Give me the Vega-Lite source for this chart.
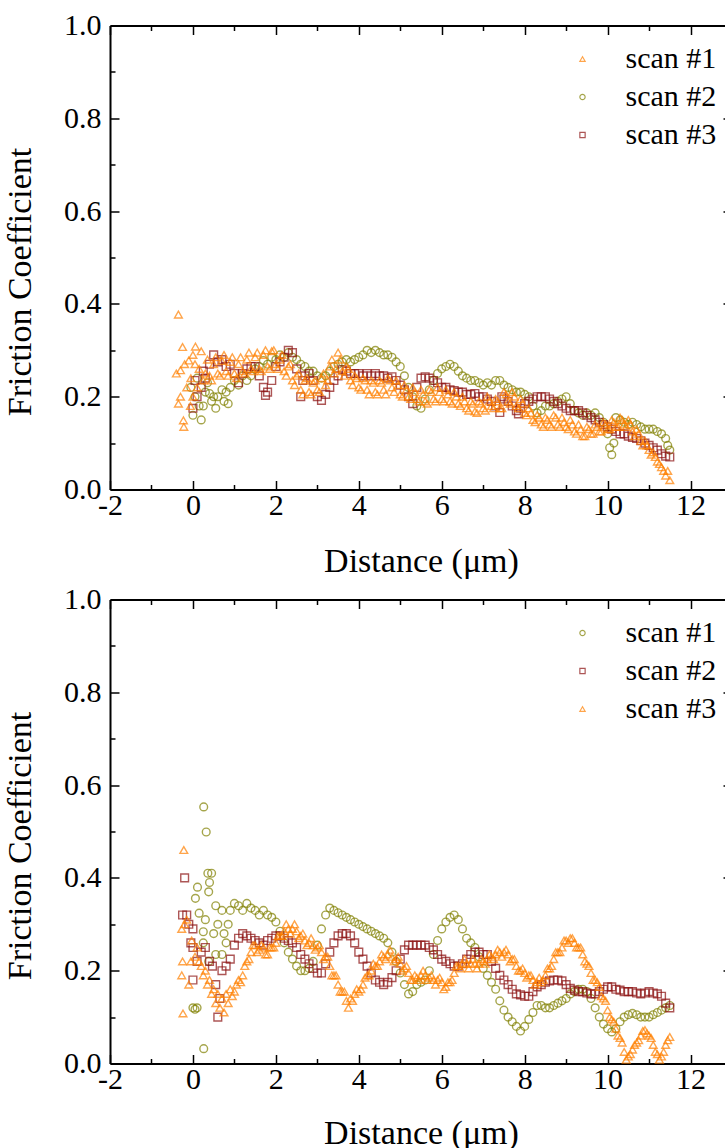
{
"$schema":"https://vega.github.io/schema/vega-lite/v6.json",
"background":"white",
"padding":{"left":3,"top":10.5,"right":0,"bottom":0},
"config":{"view":{"stroke":null},
"axis":{"grid":false,"domainColor":"black","tickColor":"black","labelColor":"black","titleColor":"black","labelFont":"Liberation Serif","titleFont":"Liberation Serif","labelFontSize":30,"titleFontSize":34,"titleFontWeight":"normal","domainWidth":2,"tickWidth":1.5,"labelOverlap":false,"labelFlush":false},
"legend":{"padding":0,"labelFont":"Liberation Serif","labelFontSize":30,"labelColor":"black","symbolSize":28,"symbolStrokeWidth":1.2,"labelOffset":28,"rowPadding":8,"orient":"none","legendX":457.5,"legendY":18.5,"title":null}},
"datasets":{
"top":[
{"s":"scan #2","x":-0.05,"y":0.22},{"s":"scan #2","x":0.0,"y":0.16},{"s":"scan #2","x":0.05,"y":0.2},{"s":"scan #2","x":0.1,"y":0.24},{"s":"scan #2","x":0.15,"y":0.18},{"s":"scan #2","x":0.2,"y":0.15},{"s":"scan #2","x":0.25,"y":0.18},{"s":"scan #2","x":0.3,"y":0.21},{"s":"scan #2","x":0.35,"y":0.23},{"s":"scan #2","x":0.4,"y":0.207},{"s":"scan #2","x":0.45,"y":0.19},{"s":"scan #2","x":0.5,"y":0.2},{"s":"scan #2","x":0.55,"y":0.175},{"s":"scan #2","x":0.6,"y":0.2},{"s":"scan #2","x":0.7,"y":0.215},{"s":"scan #2","x":0.75,"y":0.19},{"s":"scan #2","x":0.8,"y":0.21},{"s":"scan #2","x":0.85,"y":0.185},{"s":"scan #2","x":0.9,"y":0.22},
{"s":"scan #2","x":1.0,"y":0.235},{"s":"scan #2","x":1.1,"y":0.225},{"s":"scan #2","x":1.2,"y":0.245},{"s":"scan #2","x":1.3,"y":0.235},{"s":"scan #2","x":1.4,"y":0.245},{"s":"scan #2","x":1.5,"y":0.26},{"s":"scan #2","x":1.6,"y":0.265},{"s":"scan #2","x":1.7,"y":0.278},{"s":"scan #2","x":1.8,"y":0.27},{"s":"scan #2","x":1.9,"y":0.285},{"s":"scan #2","x":2.0,"y":0.28},{"s":"scan #2","x":2.1,"y":0.29},{"s":"scan #2","x":2.2,"y":0.285},{"s":"scan #2","x":2.3,"y":0.295},{"s":"scan #2","x":2.4,"y":0.285},{"s":"scan #2","x":2.5,"y":0.28},{"s":"scan #2","x":2.6,"y":0.27},{"s":"scan #2","x":2.7,"y":0.265},{"s":"scan #2","x":2.8,"y":0.255},{"s":"scan #2","x":2.9,"y":0.255},{"s":"scan #2","x":3.0,"y":0.245},{"s":"scan #2","x":3.1,"y":0.24},{"s":"scan #2","x":3.2,"y":0.245},{"s":"scan #2","x":3.3,"y":0.255},{"s":"scan #2","x":3.4,"y":0.265},{"s":"scan #2","x":3.5,"y":0.27},{"s":"scan #2","x":3.6,"y":0.275},{"s":"scan #2","x":3.7,"y":0.28},{"s":"scan #2","x":3.8,"y":0.275},{"s":"scan #2","x":3.9,"y":0.28},{"s":"scan #2","x":4.0,"y":0.285},{"s":"scan #2","x":4.1,"y":0.29},{"s":"scan #2","x":4.2,"y":0.3},{"s":"scan #2","x":4.3,"y":0.295},{"s":"scan #2","x":4.4,"y":0.3},{"s":"scan #2","x":4.5,"y":0.295},{"s":"scan #2","x":4.6,"y":0.29},{"s":"scan #2","x":4.7,"y":0.29},{"s":"scan #2","x":4.8,"y":0.285},{"s":"scan #2","x":4.9,"y":0.275},{"s":"scan #2","x":5.0,"y":0.265},{"s":"scan #2","x":5.1,"y":0.245},{"s":"scan #2","x":5.2,"y":0.22},{"s":"scan #2","x":5.3,"y":0.2},{"s":"scan #2","x":5.4,"y":0.18},{"s":"scan #2","x":5.5,"y":0.175},{"s":"scan #2","x":5.6,"y":0.195},{"s":"scan #2","x":5.7,"y":0.215},{"s":"scan #2","x":5.8,"y":0.235},{"s":"scan #2","x":5.9,"y":0.25},{"s":"scan #2","x":6.0,"y":0.26},{"s":"scan #2","x":6.1,"y":0.265},{"s":"scan #2","x":6.2,"y":0.27},{"s":"scan #2","x":6.3,"y":0.265},{"s":"scan #2","x":6.4,"y":0.255},{"s":"scan #2","x":6.5,"y":0.245},{"s":"scan #2","x":6.6,"y":0.24},{"s":"scan #2","x":6.7,"y":0.235},{"s":"scan #2","x":6.8,"y":0.235},{"s":"scan #2","x":6.9,"y":0.23},{"s":"scan #2","x":7.0,"y":0.225},{"s":"scan #2","x":7.1,"y":0.23},{"s":"scan #2","x":7.2,"y":0.225},{"s":"scan #2","x":7.3,"y":0.235},{"s":"scan #2","x":7.4,"y":0.235},{"s":"scan #2","x":7.5,"y":0.225},{"s":"scan #2","x":7.6,"y":0.22},{"s":"scan #2","x":7.7,"y":0.215},{"s":"scan #2","x":7.8,"y":0.21},{"s":"scan #2","x":7.9,"y":0.21},{"s":"scan #2","x":8.0,"y":0.205},{"s":"scan #2","x":8.1,"y":0.2},{"s":"scan #2","x":8.2,"y":0.18},{"s":"scan #2","x":8.3,"y":0.165},{"s":"scan #2","x":8.4,"y":0.17},{"s":"scan #2","x":8.5,"y":0.18},{"s":"scan #2","x":8.6,"y":0.18},{"s":"scan #2","x":8.7,"y":0.185},{"s":"scan #2","x":8.8,"y":0.19},{"s":"scan #2","x":8.9,"y":0.195},{"s":"scan #2","x":9.0,"y":0.2},{"s":"scan #2","x":9.1,"y":0.185},{"s":"scan #2","x":9.2,"y":0.17},{"s":"scan #2","x":9.3,"y":0.165},{"s":"scan #2","x":9.4,"y":0.16},{"s":"scan #2","x":9.5,"y":0.165},{"s":"scan #2","x":9.6,"y":0.16},{"s":"scan #2","x":9.7,"y":0.165},{"s":"scan #2","x":9.8,"y":0.155},{"s":"scan #2","x":9.9,"y":0.145},{"s":"scan #2","x":10.0,"y":0.12},{"s":"scan #2","x":10.05,"y":0.09},{"s":"scan #2","x":10.1,"y":0.075},{"s":"scan #2","x":10.15,"y":0.1},{"s":"scan #2","x":10.2,"y":0.155},{"s":"scan #2","x":10.3,"y":0.15},{"s":"scan #2","x":10.4,"y":0.145},{"s":"scan #2","x":10.5,"y":0.14},{"s":"scan #2","x":10.6,"y":0.145},{"s":"scan #2","x":10.7,"y":0.14},{"s":"scan #2","x":10.8,"y":0.135},{"s":"scan #2","x":10.9,"y":0.13},{"s":"scan #2","x":11.0,"y":0.13},{"s":"scan #2","x":11.1,"y":0.13},{"s":"scan #2","x":11.2,"y":0.125},{"s":"scan #2","x":11.3,"y":0.12},{"s":"scan #2","x":11.4,"y":0.11},{"s":"scan #2","x":11.45,"y":0.095},{"s":"scan #2","x":11.5,"y":0.085},
{"s":"scan #3","x":0.0,"y":0.175},{"s":"scan #3","x":0.05,"y":0.235},{"s":"scan #3","x":0.1,"y":0.2},{"s":"scan #3","x":0.2,"y":0.22},{"s":"scan #3","x":0.25,"y":0.255},{"s":"scan #3","x":0.3,"y":0.24},{"s":"scan #3","x":0.4,"y":0.27},{"s":"scan #3","x":0.5,"y":0.29},{"s":"scan #3","x":0.6,"y":0.275},{"s":"scan #3","x":0.7,"y":0.28},{"s":"scan #3","x":0.8,"y":0.265},{"s":"scan #3","x":0.9,"y":0.27},{"s":"scan #3","x":1.0,"y":0.25},{"s":"scan #3","x":1.1,"y":0.23},{"s":"scan #3","x":1.2,"y":0.25},{"s":"scan #3","x":1.3,"y":0.26},{"s":"scan #3","x":1.4,"y":0.265},{"s":"scan #3","x":1.5,"y":0.265},{"s":"scan #3","x":1.6,"y":0.245},{"s":"scan #3","x":1.7,"y":0.22},{"s":"scan #3","x":1.75,"y":0.203},{"s":"scan #3","x":1.8,"y":0.21},{"s":"scan #3","x":1.9,"y":0.235},{"s":"scan #3","x":2.0,"y":0.265},{"s":"scan #3","x":2.1,"y":0.275},{"s":"scan #3","x":2.2,"y":0.285},{"s":"scan #3","x":2.3,"y":0.3},{"s":"scan #3","x":2.4,"y":0.295},{"s":"scan #3","x":2.5,"y":0.26},{"s":"scan #3","x":2.6,"y":0.2},{"s":"scan #3","x":2.65,"y":0.235},{"s":"scan #3","x":2.7,"y":0.245},{"s":"scan #3","x":2.8,"y":0.25},{"s":"scan #3","x":2.9,"y":0.235},{"s":"scan #3","x":3.0,"y":0.2},{"s":"scan #3","x":3.1,"y":0.192},{"s":"scan #3","x":3.2,"y":0.205},{"s":"scan #3","x":3.3,"y":0.22},{"s":"scan #3","x":3.4,"y":0.235},{"s":"scan #3","x":3.5,"y":0.245},{"s":"scan #3","x":3.6,"y":0.258},{"s":"scan #3","x":3.7,"y":0.255},{"s":"scan #3","x":3.8,"y":0.25},{"s":"scan #3","x":3.9,"y":0.25},{"s":"scan #3","x":4.0,"y":0.25},{"s":"scan #3","x":4.1,"y":0.245},{"s":"scan #3","x":4.2,"y":0.25},{"s":"scan #3","x":4.3,"y":0.245},{"s":"scan #3","x":4.4,"y":0.25},{"s":"scan #3","x":4.5,"y":0.245},{"s":"scan #3","x":4.6,"y":0.245},{"s":"scan #3","x":4.7,"y":0.24},{"s":"scan #3","x":4.8,"y":0.243},{"s":"scan #3","x":4.9,"y":0.235},{"s":"scan #3","x":5.0,"y":0.225},{"s":"scan #3","x":5.1,"y":0.215},{"s":"scan #3","x":5.2,"y":0.2},{"s":"scan #3","x":5.3,"y":0.185},{"s":"scan #3","x":5.4,"y":0.22},{"s":"scan #3","x":5.5,"y":0.24},{"s":"scan #3","x":5.6,"y":0.243},{"s":"scan #3","x":5.7,"y":0.24},{"s":"scan #3","x":5.8,"y":0.235},{"s":"scan #3","x":5.9,"y":0.23},{"s":"scan #3","x":6.0,"y":0.22},{"s":"scan #3","x":6.1,"y":0.22},{"s":"scan #3","x":6.2,"y":0.215},{"s":"scan #3","x":6.3,"y":0.213},{"s":"scan #3","x":6.4,"y":0.21},{"s":"scan #3","x":6.5,"y":0.21},{"s":"scan #3","x":6.6,"y":0.205},{"s":"scan #3","x":6.7,"y":0.205},{"s":"scan #3","x":6.8,"y":0.207},{"s":"scan #3","x":6.9,"y":0.2},{"s":"scan #3","x":7.0,"y":0.2},{"s":"scan #3","x":7.1,"y":0.195},{"s":"scan #3","x":7.2,"y":0.19},{"s":"scan #3","x":7.3,"y":0.18},{"s":"scan #3","x":7.4,"y":0.166},{"s":"scan #3","x":7.45,"y":0.2},{"s":"scan #3","x":7.5,"y":0.195},{"s":"scan #3","x":7.6,"y":0.19},{"s":"scan #3","x":7.7,"y":0.18},{"s":"scan #3","x":7.8,"y":0.17},{"s":"scan #3","x":7.85,"y":0.163},{"s":"scan #3","x":7.9,"y":0.175},{"s":"scan #3","x":8.0,"y":0.185},{"s":"scan #3","x":8.1,"y":0.19},{"s":"scan #3","x":8.2,"y":0.195},{"s":"scan #3","x":8.3,"y":0.2},{"s":"scan #3","x":8.4,"y":0.2},{"s":"scan #3","x":8.5,"y":0.2},{"s":"scan #3","x":8.6,"y":0.195},{"s":"scan #3","x":8.7,"y":0.19},{"s":"scan #3","x":8.8,"y":0.185},{"s":"scan #3","x":8.9,"y":0.18},{"s":"scan #3","x":9.0,"y":0.175},{"s":"scan #3","x":9.1,"y":0.17},{"s":"scan #3","x":9.2,"y":0.17},{"s":"scan #3","x":9.3,"y":0.17},{"s":"scan #3","x":9.4,"y":0.165},{"s":"scan #3","x":9.5,"y":0.16},{"s":"scan #3","x":9.6,"y":0.155},{"s":"scan #3","x":9.7,"y":0.15},{"s":"scan #3","x":9.8,"y":0.145},{"s":"scan #3","x":9.9,"y":0.14},{"s":"scan #3","x":10.0,"y":0.135},{"s":"scan #3","x":10.1,"y":0.13},{"s":"scan #3","x":10.2,"y":0.125},{"s":"scan #3","x":10.3,"y":0.12},{"s":"scan #3","x":10.4,"y":0.12},{"s":"scan #3","x":10.5,"y":0.115},{"s":"scan #3","x":10.6,"y":0.112},{"s":"scan #3","x":10.7,"y":0.11},{"s":"scan #3","x":10.8,"y":0.105},{"s":"scan #3","x":10.9,"y":0.1},{"s":"scan #3","x":11.0,"y":0.095},{"s":"scan #3","x":11.1,"y":0.09},{"s":"scan #3","x":11.2,"y":0.085},{"s":"scan #3","x":11.3,"y":0.077},{"s":"scan #3","x":11.4,"y":0.072},{"s":"scan #3","x":11.5,"y":0.07},
{"s":"scan #1","x":-0.35,"y":0.377},{"s":"scan #1","x":-0.4,"y":0.25},{"s":"scan #1","x":-0.35,"y":0.185},{"s":"scan #1","x":-0.3,"y":0.257},{"s":"scan #1","x":-0.3,"y":0.2},{"s":"scan #1","x":-0.25,"y":0.307},{"s":"scan #1","x":-0.23,"y":0.149},{"s":"scan #1","x":-0.22,"y":0.135},{"s":"scan #1","x":-0.2,"y":0.27},{"s":"scan #1","x":-0.15,"y":0.22},{"s":"scan #1","x":-0.1,"y":0.278},{"s":"scan #1","x":-0.06,"y":0.18},{"s":"scan #1","x":-0.05,"y":0.24},{"s":"scan #1","x":0.0,"y":0.2},{"s":"scan #1","x":0.0,"y":0.29},{"s":"scan #1","x":0.05,"y":0.27},{"s":"scan #1","x":0.06,"y":0.308},{"s":"scan #1","x":0.1,"y":0.22},{"s":"scan #1","x":0.15,"y":0.26},{"s":"scan #1","x":0.2,"y":0.298},{"s":"scan #1","x":0.25,"y":0.235},{"s":"scan #1","x":0.3,"y":0.25},{"s":"scan #1","x":0.35,"y":0.28},
{"s":"scan #1","x":0.4,"y":0.245},{"s":"scan #1","x":0.5,"y":0.27},{"s":"scan #1","x":0.6,"y":0.25},{"s":"scan #1","x":0.7,"y":0.277},{"s":"scan #1","x":0.8,"y":0.255},{"s":"scan #1","x":0.9,"y":0.275},{"s":"scan #1","x":1.0,"y":0.25},{"s":"scan #1","x":1.1,"y":0.27},{"s":"scan #1","x":1.2,"y":0.255},{"s":"scan #1","x":1.3,"y":0.28},{"s":"scan #1","x":1.4,"y":0.26},{"s":"scan #1","x":1.5,"y":0.285},{"s":"scan #1","x":1.6,"y":0.26},{"s":"scan #1","x":1.7,"y":0.29},{"s":"scan #1","x":1.8,"y":0.265},{"s":"scan #1","x":1.9,"y":0.298},{"s":"scan #1","x":2.0,"y":0.27},{"s":"scan #1","x":2.1,"y":0.28},{"s":"scan #1","x":2.2,"y":0.255},{"s":"scan #1","x":2.3,"y":0.265},{"s":"scan #1","x":2.4,"y":0.235},{"s":"scan #1","x":2.5,"y":0.245},{"s":"scan #1","x":2.6,"y":0.215},{"s":"scan #1","x":2.7,"y":0.235},{"s":"scan #1","x":2.8,"y":0.21},{"s":"scan #1","x":2.9,"y":0.23},{"s":"scan #1","x":3.0,"y":0.215},{"s":"scan #1","x":3.1,"y":0.24},{"s":"scan #1","x":3.2,"y":0.225},{"s":"scan #1","x":3.3,"y":0.265},{"s":"scan #1","x":3.4,"y":0.25},{"s":"scan #1","x":3.5,"y":0.295},{"s":"scan #1","x":3.6,"y":0.255},{"s":"scan #1","x":3.7,"y":0.265},{"s":"scan #1","x":3.8,"y":0.235},{"s":"scan #1","x":3.9,"y":0.245},{"s":"scan #1","x":4.0,"y":0.22},{"s":"scan #1","x":4.1,"y":0.24},{"s":"scan #1","x":4.2,"y":0.215},{"s":"scan #1","x":4.3,"y":0.235},{"s":"scan #1","x":4.4,"y":0.21},{"s":"scan #1","x":4.5,"y":0.235},{"s":"scan #1","x":4.6,"y":0.215},{"s":"scan #1","x":4.7,"y":0.24},{"s":"scan #1","x":4.8,"y":0.22},{"s":"scan #1","x":4.9,"y":0.235},{"s":"scan #1","x":5.0,"y":0.205},{"s":"scan #1","x":5.1,"y":0.225},{"s":"scan #1","x":5.2,"y":0.2},{"s":"scan #1","x":5.3,"y":0.22},{"s":"scan #1","x":5.4,"y":0.195},{"s":"scan #1","x":5.5,"y":0.215},{"s":"scan #1","x":5.6,"y":0.19},{"s":"scan #1","x":5.7,"y":0.215},{"s":"scan #1","x":5.8,"y":0.195},{"s":"scan #1","x":5.9,"y":0.22},{"s":"scan #1","x":6.0,"y":0.195},{"s":"scan #1","x":6.1,"y":0.215},{"s":"scan #1","x":6.2,"y":0.19},{"s":"scan #1","x":6.3,"y":0.21},{"s":"scan #1","x":6.4,"y":0.185},{"s":"scan #1","x":6.5,"y":0.2},{"s":"scan #1","x":6.6,"y":0.175},{"s":"scan #1","x":6.7,"y":0.19},{"s":"scan #1","x":6.8,"y":0.168},{"s":"scan #1","x":6.9,"y":0.19},{"s":"scan #1","x":7.0,"y":0.175},{"s":"scan #1","x":7.1,"y":0.2},{"s":"scan #1","x":7.2,"y":0.18},{"s":"scan #1","x":7.3,"y":0.195},{"s":"scan #1","x":7.4,"y":0.175},{"s":"scan #1","x":7.5,"y":0.21},{"s":"scan #1","x":7.6,"y":0.19},{"s":"scan #1","x":7.7,"y":0.21},{"s":"scan #1","x":7.8,"y":0.18},{"s":"scan #1","x":7.9,"y":0.195},{"s":"scan #1","x":8.0,"y":0.165},{"s":"scan #1","x":8.1,"y":0.175},{"s":"scan #1","x":8.2,"y":0.15},{"s":"scan #1","x":8.3,"y":0.16},{"s":"scan #1","x":8.4,"y":0.14},{"s":"scan #1","x":8.5,"y":0.155},{"s":"scan #1","x":8.6,"y":0.14},{"s":"scan #1","x":8.7,"y":0.16},{"s":"scan #1","x":8.8,"y":0.14},{"s":"scan #1","x":8.9,"y":0.155},{"s":"scan #1","x":9.0,"y":0.135},{"s":"scan #1","x":9.1,"y":0.15},{"s":"scan #1","x":9.2,"y":0.125},{"s":"scan #1","x":9.3,"y":0.14},{"s":"scan #1","x":9.4,"y":0.115},{"s":"scan #1","x":9.5,"y":0.135},{"s":"scan #1","x":9.6,"y":0.12},{"s":"scan #1","x":9.7,"y":0.14},{"s":"scan #1","x":9.8,"y":0.125},{"s":"scan #1","x":9.9,"y":0.145},{"s":"scan #1","x":10.0,"y":0.13},{"s":"scan #1","x":10.1,"y":0.15},{"s":"scan #1","x":10.2,"y":0.135},{"s":"scan #1","x":10.3,"y":0.155},{"s":"scan #1","x":10.4,"y":0.14},{"s":"scan #1","x":10.5,"y":0.15},{"s":"scan #1","x":10.6,"y":0.125},{"s":"scan #1","x":10.7,"y":0.13},{"s":"scan #1","x":10.8,"y":0.105},{"s":"scan #1","x":10.9,"y":0.105},{"s":"scan #1","x":11.0,"y":0.085},{"s":"scan #1","x":11.1,"y":0.08},{"s":"scan #1","x":11.2,"y":0.06},{"s":"scan #1","x":11.3,"y":0.048},{"s":"scan #1","x":11.4,"y":0.03},{"s":"scan #1","x":11.45,"y":0.04},{"s":"scan #1","x":11.5,"y":0.02},
{"s":"scan #1","x":0.45,"y":0.235},{"s":"scan #1","x":0.55,"y":0.285},{"s":"scan #1","x":0.65,"y":0.245},{"s":"scan #1","x":0.75,"y":0.29},{"s":"scan #1","x":0.85,"y":0.245},{"s":"scan #1","x":0.95,"y":0.285},{"s":"scan #1","x":1.05,"y":0.24},{"s":"scan #1","x":1.15,"y":0.285},{"s":"scan #1","x":1.25,"y":0.25},{"s":"scan #1","x":1.35,"y":0.295},{"s":"scan #1","x":1.45,"y":0.255},{"s":"scan #1","x":1.55,"y":0.295},{"s":"scan #1","x":1.65,"y":0.255},{"s":"scan #1","x":1.75,"y":0.3},{"s":"scan #1","x":1.85,"y":0.26},{"s":"scan #1","x":1.95,"y":0.3},{"s":"scan #1","x":2.05,"y":0.26},{"s":"scan #1","x":2.15,"y":0.29},{"s":"scan #1","x":2.25,"y":0.245},{"s":"scan #1","x":2.35,"y":0.27},{"s":"scan #1","x":2.45,"y":0.225},{"s":"scan #1","x":2.55,"y":0.25},{"s":"scan #1","x":2.65,"y":0.205},{"s":"scan #1","x":2.75,"y":0.24},{"s":"scan #1","x":2.85,"y":0.205},{"s":"scan #1","x":2.95,"y":0.235},{"s":"scan #1","x":3.05,"y":0.21},{"s":"scan #1","x":3.15,"y":0.25},{"s":"scan #1","x":3.25,"y":0.235},{"s":"scan #1","x":3.35,"y":0.28},{"s":"scan #1","x":3.45,"y":0.26},{"s":"scan #1","x":3.55,"y":0.28},{"s":"scan #1","x":3.65,"y":0.245},{"s":"scan #1","x":3.75,"y":0.26},{"s":"scan #1","x":3.85,"y":0.225},{"s":"scan #1","x":3.95,"y":0.24},{"s":"scan #1","x":4.05,"y":0.215},{"s":"scan #1","x":4.15,"y":0.235},{"s":"scan #1","x":4.25,"y":0.205},{"s":"scan #1","x":4.35,"y":0.23},{"s":"scan #1","x":4.45,"y":0.205},{"s":"scan #1","x":4.55,"y":0.23},{"s":"scan #1","x":4.65,"y":0.205},{"s":"scan #1","x":4.75,"y":0.235},{"s":"scan #1","x":4.85,"y":0.21},{"s":"scan #1","x":4.95,"y":0.225},{"s":"scan #1","x":5.05,"y":0.2},{"s":"scan #1","x":5.15,"y":0.215},{"s":"scan #1","x":5.25,"y":0.195},{"s":"scan #1","x":5.35,"y":0.21},{"s":"scan #1","x":5.45,"y":0.19},{"s":"scan #1","x":5.55,"y":0.205},{"s":"scan #1","x":5.65,"y":0.185},{"s":"scan #1","x":5.75,"y":0.21},{"s":"scan #1","x":5.85,"y":0.19},{"s":"scan #1","x":5.95,"y":0.21},{"s":"scan #1","x":6.05,"y":0.19},{"s":"scan #1","x":6.15,"y":0.205},{"s":"scan #1","x":6.25,"y":0.185},{"s":"scan #1","x":6.35,"y":0.2},{"s":"scan #1","x":6.45,"y":0.18},{"s":"scan #1","x":6.55,"y":0.19},{"s":"scan #1","x":6.65,"y":0.17},{"s":"scan #1","x":6.75,"y":0.185},{"s":"scan #1","x":6.85,"y":0.165},{"s":"scan #1","x":6.95,"y":0.185},{"s":"scan #1","x":7.05,"y":0.17},{"s":"scan #1","x":7.15,"y":0.19},{"s":"scan #1","x":7.25,"y":0.175},{"s":"scan #1","x":7.35,"y":0.19},{"s":"scan #1","x":7.45,"y":0.175},{"s":"scan #1","x":7.55,"y":0.205},{"s":"scan #1","x":7.65,"y":0.185},{"s":"scan #1","x":7.75,"y":0.2},{"s":"scan #1","x":7.85,"y":0.175},{"s":"scan #1","x":7.95,"y":0.185},{"s":"scan #1","x":8.05,"y":0.16},{"s":"scan #1","x":8.15,"y":0.165},{"s":"scan #1","x":8.25,"y":0.145},{"s":"scan #1","x":8.35,"y":0.155},{"s":"scan #1","x":8.45,"y":0.135},{"s":"scan #1","x":8.55,"y":0.15},{"s":"scan #1","x":8.65,"y":0.135},{"s":"scan #1","x":8.75,"y":0.155},{"s":"scan #1","x":8.85,"y":0.135},{"s":"scan #1","x":8.95,"y":0.145},{"s":"scan #1","x":9.05,"y":0.13},{"s":"scan #1","x":9.15,"y":0.14},{"s":"scan #1","x":9.25,"y":0.12},{"s":"scan #1","x":9.35,"y":0.13},{"s":"scan #1","x":9.45,"y":0.115},{"s":"scan #1","x":9.55,"y":0.13},{"s":"scan #1","x":9.65,"y":0.12},{"s":"scan #1","x":9.75,"y":0.135},{"s":"scan #1","x":9.85,"y":0.125},{"s":"scan #1","x":9.95,"y":0.14},{"s":"scan #1","x":10.05,"y":0.13},{"s":"scan #1","x":10.15,"y":0.145},{"s":"scan #1","x":10.25,"y":0.135},{"s":"scan #1","x":10.35,"y":0.15},{"s":"scan #1","x":10.45,"y":0.135},{"s":"scan #1","x":10.55,"y":0.14},{"s":"scan #1","x":10.65,"y":0.115},{"s":"scan #1","x":10.75,"y":0.12},{"s":"scan #1","x":10.85,"y":0.095},{"s":"scan #1","x":10.95,"y":0.095},{"s":"scan #1","x":11.05,"y":0.075},{"s":"scan #1","x":11.15,"y":0.07},{"s":"scan #1","x":11.25,"y":0.055},{"s":"scan #1","x":11.35,"y":0.04}
],
"bottom":[
{"s":"scan #1","x":0.0,"y":0.12},{"s":"scan #1","x":0.05,"y":0.117},{"s":"scan #1","x":0.1,"y":0.12},{"s":"scan #1","x":0.06,"y":0.356},{"s":"scan #1","x":0.11,"y":0.38},{"s":"scan #1","x":0.26,"y":0.553},{"s":"scan #1","x":0.32,"y":0.499},{"s":"scan #1","x":0.26,"y":0.032},{"s":"scan #1","x":0.36,"y":0.41},{"s":"scan #1","x":0.45,"y":0.41},{"s":"scan #1","x":0.4,"y":0.39},{"s":"scan #1","x":0.38,"y":0.37},{"s":"scan #1","x":0.15,"y":0.324},{"s":"scan #1","x":0.25,"y":0.284},{"s":"scan #1","x":0.25,"y":0.26},{"s":"scan #1","x":0.5,"y":0.28},{"s":"scan #1","x":0.38,"y":0.22},{"s":"scan #1","x":0.55,"y":0.235},{"s":"scan #1","x":0.7,"y":0.235},{"s":"scan #1","x":0.8,"y":0.26},{"s":"scan #1","x":0.3,"y":0.31},{"s":"scan #1","x":0.55,"y":0.34},{"s":"scan #1","x":0.6,"y":0.3},{"s":"scan #1","x":0.7,"y":0.33},{"s":"scan #1","x":0.75,"y":0.28},{"s":"scan #1","x":0.85,"y":0.3},
{"s":"scan #1","x":0.9,"y":0.33},{"s":"scan #1","x":1.0,"y":0.345},{"s":"scan #1","x":1.1,"y":0.34},{"s":"scan #1","x":1.2,"y":0.33},{"s":"scan #1","x":1.3,"y":0.345},{"s":"scan #1","x":1.4,"y":0.335},{"s":"scan #1","x":1.5,"y":0.33},{"s":"scan #1","x":1.6,"y":0.32},{"s":"scan #1","x":1.7,"y":0.33},{"s":"scan #1","x":1.8,"y":0.32},{"s":"scan #1","x":1.9,"y":0.315},{"s":"scan #1","x":2.0,"y":0.305},{"s":"scan #1","x":2.1,"y":0.285},{"s":"scan #1","x":2.2,"y":0.26},{"s":"scan #1","x":2.3,"y":0.24},{"s":"scan #1","x":2.4,"y":0.225},{"s":"scan #1","x":2.5,"y":0.21},{"s":"scan #1","x":2.6,"y":0.2},{"s":"scan #1","x":2.7,"y":0.2},{"s":"scan #1","x":2.8,"y":0.205},{"s":"scan #1","x":2.9,"y":0.22},{"s":"scan #1","x":3.0,"y":0.255},{"s":"scan #1","x":3.1,"y":0.29},{"s":"scan #1","x":3.2,"y":0.32},{"s":"scan #1","x":3.3,"y":0.335},{"s":"scan #1","x":3.4,"y":0.33},{"s":"scan #1","x":3.5,"y":0.325},{"s":"scan #1","x":3.6,"y":0.32},{"s":"scan #1","x":3.7,"y":0.315},{"s":"scan #1","x":3.8,"y":0.31},{"s":"scan #1","x":3.9,"y":0.305},{"s":"scan #1","x":4.0,"y":0.3},{"s":"scan #1","x":4.1,"y":0.295},{"s":"scan #1","x":4.2,"y":0.29},{"s":"scan #1","x":4.3,"y":0.285},{"s":"scan #1","x":4.4,"y":0.28},{"s":"scan #1","x":4.5,"y":0.275},{"s":"scan #1","x":4.6,"y":0.27},{"s":"scan #1","x":4.7,"y":0.26},{"s":"scan #1","x":4.8,"y":0.24},{"s":"scan #1","x":4.9,"y":0.22},{"s":"scan #1","x":5.0,"y":0.195},{"s":"scan #1","x":5.1,"y":0.17},{"s":"scan #1","x":5.2,"y":0.15},{"s":"scan #1","x":5.3,"y":0.155},{"s":"scan #1","x":5.4,"y":0.17},{"s":"scan #1","x":5.5,"y":0.175},{"s":"scan #1","x":5.6,"y":0.18},{"s":"scan #1","x":5.7,"y":0.2},{"s":"scan #1","x":5.8,"y":0.235},{"s":"scan #1","x":5.9,"y":0.265},{"s":"scan #1","x":6.0,"y":0.29},{"s":"scan #1","x":6.1,"y":0.305},{"s":"scan #1","x":6.2,"y":0.315},{"s":"scan #1","x":6.3,"y":0.32},{"s":"scan #1","x":6.4,"y":0.31},{"s":"scan #1","x":6.5,"y":0.29},{"s":"scan #1","x":6.6,"y":0.27},{"s":"scan #1","x":6.7,"y":0.26},{"s":"scan #1","x":6.8,"y":0.25},{"s":"scan #1","x":6.9,"y":0.23},{"s":"scan #1","x":7.0,"y":0.205},{"s":"scan #1","x":7.1,"y":0.19},{"s":"scan #1","x":7.2,"y":0.175},{"s":"scan #1","x":7.3,"y":0.16},{"s":"scan #1","x":7.4,"y":0.135},{"s":"scan #1","x":7.5,"y":0.115},{"s":"scan #1","x":7.6,"y":0.1},{"s":"scan #1","x":7.7,"y":0.09},{"s":"scan #1","x":7.8,"y":0.08},{"s":"scan #1","x":7.9,"y":0.07},{"s":"scan #1","x":8.0,"y":0.08},{"s":"scan #1","x":8.1,"y":0.095},{"s":"scan #1","x":8.2,"y":0.11},{"s":"scan #1","x":8.3,"y":0.125},{"s":"scan #1","x":8.4,"y":0.125},{"s":"scan #1","x":8.5,"y":0.12},{"s":"scan #1","x":8.6,"y":0.12},{"s":"scan #1","x":8.7,"y":0.125},{"s":"scan #1","x":8.8,"y":0.13},{"s":"scan #1","x":8.9,"y":0.135},{"s":"scan #1","x":9.0,"y":0.14},{"s":"scan #1","x":9.1,"y":0.15},{"s":"scan #1","x":9.2,"y":0.155},{"s":"scan #1","x":9.3,"y":0.16},{"s":"scan #1","x":9.4,"y":0.16},{"s":"scan #1","x":9.5,"y":0.155},{"s":"scan #1","x":9.6,"y":0.14},{"s":"scan #1","x":9.7,"y":0.12},{"s":"scan #1","x":9.8,"y":0.1},{"s":"scan #1","x":9.9,"y":0.085},{"s":"scan #1","x":10.0,"y":0.075},{"s":"scan #1","x":10.1,"y":0.068},{"s":"scan #1","x":10.2,"y":0.075},{"s":"scan #1","x":10.3,"y":0.09},{"s":"scan #1","x":10.4,"y":0.1},{"s":"scan #1","x":10.5,"y":0.105},{"s":"scan #1","x":10.6,"y":0.108},{"s":"scan #1","x":10.7,"y":0.105},{"s":"scan #1","x":10.8,"y":0.1},{"s":"scan #1","x":10.9,"y":0.1},{"s":"scan #1","x":11.0,"y":0.1},{"s":"scan #1","x":11.1,"y":0.105},{"s":"scan #1","x":11.2,"y":0.11},{"s":"scan #1","x":11.3,"y":0.115},{"s":"scan #1","x":11.4,"y":0.12},{"s":"scan #1","x":11.5,"y":0.125},
{"s":"scan #2","x":-0.2,"y":0.4},{"s":"scan #2","x":-0.25,"y":0.32},{"s":"scan #2","x":-0.15,"y":0.32},{"s":"scan #2","x":-0.1,"y":0.3},{"s":"scan #2","x":0.0,"y":0.29},{"s":"scan #2","x":-0.05,"y":0.26},{"s":"scan #2","x":0.0,"y":0.25},{"s":"scan #2","x":0.0,"y":0.18},{"s":"scan #2","x":0.1,"y":0.22},{"s":"scan #2","x":0.2,"y":0.24},{"s":"scan #2","x":0.3,"y":0.25},{"s":"scan #2","x":0.4,"y":0.22},{"s":"scan #2","x":0.47,"y":0.21},{"s":"scan #2","x":0.55,"y":0.17},{"s":"scan #2","x":0.6,"y":0.1},{"s":"scan #2","x":0.65,"y":0.14},{"s":"scan #2","x":0.7,"y":0.2},{"s":"scan #2","x":0.8,"y":0.21},
{"s":"scan #2","x":0.9,"y":0.225},{"s":"scan #2","x":1.0,"y":0.255},{"s":"scan #2","x":1.1,"y":0.27},{"s":"scan #2","x":1.2,"y":0.28},{"s":"scan #2","x":1.3,"y":0.275},{"s":"scan #2","x":1.4,"y":0.27},{"s":"scan #2","x":1.5,"y":0.265},{"s":"scan #2","x":1.6,"y":0.26},{"s":"scan #2","x":1.7,"y":0.255},{"s":"scan #2","x":1.8,"y":0.265},{"s":"scan #2","x":1.9,"y":0.27},{"s":"scan #2","x":2.0,"y":0.275},{"s":"scan #2","x":2.1,"y":0.275},{"s":"scan #2","x":2.2,"y":0.27},{"s":"scan #2","x":2.3,"y":0.265},{"s":"scan #2","x":2.4,"y":0.26},{"s":"scan #2","x":2.5,"y":0.25},{"s":"scan #2","x":2.6,"y":0.235},{"s":"scan #2","x":2.7,"y":0.225},{"s":"scan #2","x":2.8,"y":0.215},{"s":"scan #2","x":2.9,"y":0.205},{"s":"scan #2","x":3.0,"y":0.195},{"s":"scan #2","x":3.1,"y":0.195},{"s":"scan #2","x":3.2,"y":0.215},{"s":"scan #2","x":3.3,"y":0.24},{"s":"scan #2","x":3.4,"y":0.26},{"s":"scan #2","x":3.5,"y":0.275},{"s":"scan #2","x":3.6,"y":0.28},{"s":"scan #2","x":3.7,"y":0.28},{"s":"scan #2","x":3.8,"y":0.275},{"s":"scan #2","x":3.9,"y":0.26},{"s":"scan #2","x":4.0,"y":0.24},{"s":"scan #2","x":4.1,"y":0.225},{"s":"scan #2","x":4.2,"y":0.21},{"s":"scan #2","x":4.3,"y":0.195},{"s":"scan #2","x":4.4,"y":0.18},{"s":"scan #2","x":4.5,"y":0.175},{"s":"scan #2","x":4.6,"y":0.17},{"s":"scan #2","x":4.7,"y":0.175},{"s":"scan #2","x":4.8,"y":0.185},{"s":"scan #2","x":4.9,"y":0.2},{"s":"scan #2","x":5.0,"y":0.225},{"s":"scan #2","x":5.1,"y":0.245},{"s":"scan #2","x":5.2,"y":0.255},{"s":"scan #2","x":5.3,"y":0.255},{"s":"scan #2","x":5.4,"y":0.255},{"s":"scan #2","x":5.5,"y":0.255},{"s":"scan #2","x":5.6,"y":0.255},{"s":"scan #2","x":5.7,"y":0.25},{"s":"scan #2","x":5.8,"y":0.245},{"s":"scan #2","x":5.9,"y":0.235},{"s":"scan #2","x":6.0,"y":0.225},{"s":"scan #2","x":6.1,"y":0.22},{"s":"scan #2","x":6.2,"y":0.215},{"s":"scan #2","x":6.3,"y":0.21},{"s":"scan #2","x":6.4,"y":0.21},{"s":"scan #2","x":6.5,"y":0.215},{"s":"scan #2","x":6.6,"y":0.225},{"s":"scan #2","x":6.7,"y":0.235},{"s":"scan #2","x":6.8,"y":0.24},{"s":"scan #2","x":6.9,"y":0.24},{"s":"scan #2","x":7.0,"y":0.235},{"s":"scan #2","x":7.1,"y":0.235},{"s":"scan #2","x":7.2,"y":0.22},{"s":"scan #2","x":7.3,"y":0.205},{"s":"scan #2","x":7.4,"y":0.19},{"s":"scan #2","x":7.5,"y":0.18},{"s":"scan #2","x":7.6,"y":0.17},{"s":"scan #2","x":7.7,"y":0.16},{"s":"scan #2","x":7.8,"y":0.15},{"s":"scan #2","x":7.9,"y":0.148},{"s":"scan #2","x":8.0,"y":0.145},{"s":"scan #2","x":8.1,"y":0.145},{"s":"scan #2","x":8.2,"y":0.155},{"s":"scan #2","x":8.3,"y":0.165},{"s":"scan #2","x":8.4,"y":0.17},{"s":"scan #2","x":8.5,"y":0.175},{"s":"scan #2","x":8.6,"y":0.178},{"s":"scan #2","x":8.7,"y":0.18},{"s":"scan #2","x":8.8,"y":0.18},{"s":"scan #2","x":8.9,"y":0.178},{"s":"scan #2","x":9.0,"y":0.17},{"s":"scan #2","x":9.1,"y":0.162},{"s":"scan #2","x":9.2,"y":0.158},{"s":"scan #2","x":9.3,"y":0.155},{"s":"scan #2","x":9.4,"y":0.155},{"s":"scan #2","x":9.5,"y":0.152},{"s":"scan #2","x":9.6,"y":0.15},{"s":"scan #2","x":9.7,"y":0.15},{"s":"scan #2","x":9.8,"y":0.155},{"s":"scan #2","x":9.9,"y":0.16},{"s":"scan #2","x":10.0,"y":0.165},{"s":"scan #2","x":10.1,"y":0.165},{"s":"scan #2","x":10.2,"y":0.16},{"s":"scan #2","x":10.3,"y":0.158},{"s":"scan #2","x":10.4,"y":0.155},{"s":"scan #2","x":10.5,"y":0.155},{"s":"scan #2","x":10.6,"y":0.155},{"s":"scan #2","x":10.7,"y":0.152},{"s":"scan #2","x":10.8,"y":0.15},{"s":"scan #2","x":10.9,"y":0.152},{"s":"scan #2","x":11.0,"y":0.155},{"s":"scan #2","x":11.1,"y":0.152},{"s":"scan #2","x":11.2,"y":0.15},{"s":"scan #2","x":11.3,"y":0.145},{"s":"scan #2","x":11.4,"y":0.13},{"s":"scan #2","x":11.5,"y":0.12},
{"s":"scan #3","x":-0.22,"y":0.46},{"s":"scan #3","x":-0.24,"y":0.108},{"s":"scan #3","x":-0.27,"y":0.29},{"s":"scan #3","x":-0.2,"y":0.3},{"s":"scan #3","x":-0.15,"y":0.31},{"s":"scan #3","x":-0.27,"y":0.19},{"s":"scan #3","x":-0.25,"y":0.22},{"s":"scan #3","x":-0.1,"y":0.17},{"s":"scan #3","x":-0.05,"y":0.22},{"s":"scan #3","x":-0.03,"y":0.265},{"s":"scan #3","x":0.05,"y":0.23},{"s":"scan #3","x":0.1,"y":0.25},{"s":"scan #3","x":0.15,"y":0.22},{"s":"scan #3","x":0.2,"y":0.21},{"s":"scan #3","x":0.25,"y":0.19},
{"s":"scan #3","x":0.3,"y":0.2},{"s":"scan #3","x":0.35,"y":0.17},{"s":"scan #3","x":0.4,"y":0.18},{"s":"scan #3","x":0.45,"y":0.15},{"s":"scan #3","x":0.5,"y":0.16},{"s":"scan #3","x":0.55,"y":0.13},{"s":"scan #3","x":0.6,"y":0.15},{"s":"scan #3","x":0.65,"y":0.12},{"s":"scan #3","x":0.7,"y":0.14},{"s":"scan #3","x":0.75,"y":0.11},{"s":"scan #3","x":0.8,"y":0.15},{"s":"scan #3","x":0.85,"y":0.13},{"s":"scan #3","x":0.9,"y":0.16},{"s":"scan #3","x":1.0,"y":0.155},{"s":"scan #3","x":1.1,"y":0.18},{"s":"scan #3","x":1.2,"y":0.19},{"s":"scan #3","x":1.3,"y":0.22},{"s":"scan #3","x":1.4,"y":0.24},{"s":"scan #3","x":1.5,"y":0.255},{"s":"scan #3","x":1.6,"y":0.245},{"s":"scan #3","x":1.7,"y":0.25},{"s":"scan #3","x":1.8,"y":0.235},{"s":"scan #3","x":1.9,"y":0.25},{"s":"scan #3","x":2.0,"y":0.26},{"s":"scan #3","x":2.1,"y":0.275},{"s":"scan #3","x":2.2,"y":0.285},{"s":"scan #3","x":2.3,"y":0.29},{"s":"scan #3","x":2.4,"y":0.29},{"s":"scan #3","x":2.5,"y":0.285},{"s":"scan #3","x":2.6,"y":0.275},{"s":"scan #3","x":2.7,"y":0.265},{"s":"scan #3","x":2.8,"y":0.26},{"s":"scan #3","x":2.9,"y":0.255},{"s":"scan #3","x":3.0,"y":0.25},{"s":"scan #3","x":3.1,"y":0.24},{"s":"scan #3","x":3.2,"y":0.23},{"s":"scan #3","x":3.3,"y":0.21},{"s":"scan #3","x":3.4,"y":0.19},{"s":"scan #3","x":3.5,"y":0.17},{"s":"scan #3","x":3.6,"y":0.155},{"s":"scan #3","x":3.7,"y":0.135},{"s":"scan #3","x":3.75,"y":0.12},{"s":"scan #3","x":3.8,"y":0.14},{"s":"scan #3","x":3.9,"y":0.15},{"s":"scan #3","x":4.0,"y":0.155},{"s":"scan #3","x":4.1,"y":0.17},{"s":"scan #3","x":4.2,"y":0.19},{"s":"scan #3","x":4.3,"y":0.2},{"s":"scan #3","x":4.4,"y":0.21},{"s":"scan #3","x":4.5,"y":0.22},{"s":"scan #3","x":4.6,"y":0.23},{"s":"scan #3","x":4.7,"y":0.235},{"s":"scan #3","x":4.8,"y":0.23},{"s":"scan #3","x":4.9,"y":0.225},{"s":"scan #3","x":5.0,"y":0.215},{"s":"scan #3","x":5.1,"y":0.205},{"s":"scan #3","x":5.2,"y":0.195},{"s":"scan #3","x":5.3,"y":0.18},{"s":"scan #3","x":5.4,"y":0.185},{"s":"scan #3","x":5.5,"y":0.19},{"s":"scan #3","x":5.6,"y":0.19},{"s":"scan #3","x":5.7,"y":0.185},{"s":"scan #3","x":5.8,"y":0.18},{"s":"scan #3","x":5.9,"y":0.18},{"s":"scan #3","x":6.0,"y":0.175},{"s":"scan #3","x":6.1,"y":0.165},{"s":"scan #3","x":6.2,"y":0.175},{"s":"scan #3","x":6.3,"y":0.195},{"s":"scan #3","x":6.4,"y":0.21},{"s":"scan #3","x":6.5,"y":0.215},{"s":"scan #3","x":6.6,"y":0.215},{"s":"scan #3","x":6.7,"y":0.215},{"s":"scan #3","x":6.8,"y":0.215},{"s":"scan #3","x":6.9,"y":0.215},{"s":"scan #3","x":7.0,"y":0.22},{"s":"scan #3","x":7.1,"y":0.225},{"s":"scan #3","x":7.2,"y":0.23},{"s":"scan #3","x":7.3,"y":0.235},{"s":"scan #3","x":7.4,"y":0.24},{"s":"scan #3","x":7.5,"y":0.24},{"s":"scan #3","x":7.6,"y":0.235},{"s":"scan #3","x":7.7,"y":0.225},{"s":"scan #3","x":7.8,"y":0.21},{"s":"scan #3","x":7.9,"y":0.2},{"s":"scan #3","x":8.0,"y":0.195},{"s":"scan #3","x":8.1,"y":0.19},{"s":"scan #3","x":8.2,"y":0.18},{"s":"scan #3","x":8.3,"y":0.175},{"s":"scan #3","x":8.4,"y":0.175},{"s":"scan #3","x":8.5,"y":0.19},{"s":"scan #3","x":8.6,"y":0.205},{"s":"scan #3","x":8.7,"y":0.225},{"s":"scan #3","x":8.8,"y":0.24},{"s":"scan #3","x":8.9,"y":0.25},{"s":"scan #3","x":9.0,"y":0.265},{"s":"scan #3","x":9.1,"y":0.27},{"s":"scan #3","x":9.2,"y":0.26},{"s":"scan #3","x":9.3,"y":0.25},{"s":"scan #3","x":9.4,"y":0.235},{"s":"scan #3","x":9.5,"y":0.215},{"s":"scan #3","x":9.6,"y":0.195},{"s":"scan #3","x":9.7,"y":0.18},{"s":"scan #3","x":9.8,"y":0.165},{"s":"scan #3","x":9.9,"y":0.14},{"s":"scan #3","x":10.0,"y":0.115},{"s":"scan #3","x":10.1,"y":0.095},{"s":"scan #3","x":10.2,"y":0.075},{"s":"scan #3","x":10.3,"y":0.055},{"s":"scan #3","x":10.4,"y":0.025},{"s":"scan #3","x":10.45,"y":0.008},{"s":"scan #3","x":10.5,"y":0.015},{"s":"scan #3","x":10.6,"y":0.03},{"s":"scan #3","x":10.7,"y":0.045},{"s":"scan #3","x":10.8,"y":0.06},{"s":"scan #3","x":10.9,"y":0.072},{"s":"scan #3","x":11.0,"y":0.06},{"s":"scan #3","x":11.1,"y":0.04},{"s":"scan #3","x":11.2,"y":0.02},{"s":"scan #3","x":11.25,"y":0.008},{"s":"scan #3","x":11.3,"y":0.015},{"s":"scan #3","x":11.4,"y":0.04},{"s":"scan #3","x":11.5,"y":0.057},
{"s":"scan #3","x":0.95,"y":0.145},{"s":"scan #3","x":1.05,"y":0.17},{"s":"scan #3","x":1.15,"y":0.175},{"s":"scan #3","x":1.25,"y":0.21},{"s":"scan #3","x":1.35,"y":0.225},{"s":"scan #3","x":1.45,"y":0.255},{"s":"scan #3","x":1.55,"y":0.24},{"s":"scan #3","x":1.65,"y":0.255},{"s":"scan #3","x":1.75,"y":0.235},{"s":"scan #3","x":1.85,"y":0.25},{"s":"scan #3","x":1.95,"y":0.25},{"s":"scan #3","x":2.05,"y":0.275},{"s":"scan #3","x":2.15,"y":0.275},{"s":"scan #3","x":2.25,"y":0.3},{"s":"scan #3","x":2.35,"y":0.28},{"s":"scan #3","x":2.45,"y":0.3},{"s":"scan #3","x":2.55,"y":0.27},{"s":"scan #3","x":2.65,"y":0.28},{"s":"scan #3","x":2.75,"y":0.255},{"s":"scan #3","x":2.85,"y":0.27},{"s":"scan #3","x":2.95,"y":0.245},{"s":"scan #3","x":3.05,"y":0.255},{"s":"scan #3","x":3.15,"y":0.225},{"s":"scan #3","x":3.25,"y":0.23},{"s":"scan #3","x":3.35,"y":0.19},{"s":"scan #3","x":3.45,"y":0.19},{"s":"scan #3","x":3.55,"y":0.155},{"s":"scan #3","x":3.65,"y":0.155},{"s":"scan #3","x":3.85,"y":0.135},{"s":"scan #3","x":3.95,"y":0.16},{"s":"scan #3","x":4.05,"y":0.16},{"s":"scan #3","x":4.15,"y":0.185},{"s":"scan #3","x":4.25,"y":0.19},{"s":"scan #3","x":4.35,"y":0.215},{"s":"scan #3","x":4.45,"y":0.21},{"s":"scan #3","x":4.55,"y":0.235},{"s":"scan #3","x":4.65,"y":0.225},{"s":"scan #3","x":4.75,"y":0.245},{"s":"scan #3","x":4.85,"y":0.22},{"s":"scan #3","x":4.95,"y":0.23},{"s":"scan #3","x":5.05,"y":0.2},{"s":"scan #3","x":5.15,"y":0.21},{"s":"scan #3","x":5.25,"y":0.18},{"s":"scan #3","x":5.35,"y":0.19},{"s":"scan #3","x":5.45,"y":0.18},{"s":"scan #3","x":5.55,"y":0.2},{"s":"scan #3","x":5.65,"y":0.18},{"s":"scan #3","x":5.75,"y":0.19},{"s":"scan #3","x":5.85,"y":0.17},{"s":"scan #3","x":5.95,"y":0.185},{"s":"scan #3","x":6.05,"y":0.16},{"s":"scan #3","x":6.15,"y":0.175},{"s":"scan #3","x":6.25,"y":0.18},{"s":"scan #3","x":6.35,"y":0.21},{"s":"scan #3","x":6.45,"y":0.205},{"s":"scan #3","x":6.55,"y":0.225},{"s":"scan #3","x":6.65,"y":0.205},{"s":"scan #3","x":6.75,"y":0.225},{"s":"scan #3","x":6.85,"y":0.205},{"s":"scan #3","x":6.95,"y":0.225},{"s":"scan #3","x":7.05,"y":0.215},{"s":"scan #3","x":7.15,"y":0.235},{"s":"scan #3","x":7.25,"y":0.225},{"s":"scan #3","x":7.35,"y":0.245},{"s":"scan #3","x":7.45,"y":0.23},{"s":"scan #3","x":7.55,"y":0.245},{"s":"scan #3","x":7.65,"y":0.22},{"s":"scan #3","x":7.75,"y":0.225},{"s":"scan #3","x":7.85,"y":0.2},{"s":"scan #3","x":7.95,"y":0.205},{"s":"scan #3","x":8.05,"y":0.185},{"s":"scan #3","x":8.15,"y":0.19},{"s":"scan #3","x":8.25,"y":0.17},{"s":"scan #3","x":8.35,"y":0.185},{"s":"scan #3","x":8.45,"y":0.18},{"s":"scan #3","x":8.55,"y":0.205},{"s":"scan #3","x":8.65,"y":0.21},{"s":"scan #3","x":8.75,"y":0.24},{"s":"scan #3","x":8.85,"y":0.24},{"s":"scan #3","x":8.95,"y":0.265},{"s":"scan #3","x":9.05,"y":0.26},{"s":"scan #3","x":9.15,"y":0.27},{"s":"scan #3","x":9.25,"y":0.25},{"s":"scan #3","x":9.35,"y":0.25},{"s":"scan #3","x":9.45,"y":0.22},{"s":"scan #3","x":9.55,"y":0.21},{"s":"scan #3","x":9.65,"y":0.18},{"s":"scan #3","x":9.75,"y":0.175},{"s":"scan #3","x":9.85,"y":0.145},{"s":"scan #3","x":9.95,"y":0.135},{"s":"scan #3","x":10.05,"y":0.1},{"s":"scan #3","x":10.15,"y":0.09},{"s":"scan #3","x":10.25,"y":0.06},{"s":"scan #3","x":10.35,"y":0.045},{"s":"scan #3","x":10.55,"y":0.02},{"s":"scan #3","x":10.65,"y":0.04},{"s":"scan #3","x":10.75,"y":0.05},{"s":"scan #3","x":10.85,"y":0.07},{"s":"scan #3","x":10.95,"y":0.065},{"s":"scan #3","x":11.05,"y":0.055},{"s":"scan #3","x":11.15,"y":0.025},{"s":"scan #3","x":11.35,"y":0.025},{"s":"scan #3","x":11.45,"y":0.05}
],
"ax":[{"x":0,"y":0}]
},
"vconcat":[
{
"width":622,"height":464,
"layer":[
{"data":{"name":"top"},
"mark":{"type":"point","filled":false,"size":60,"strokeWidth":1.4},
"encoding":{
"x":{"field":"x","type":"quantitative","scale":{"domain":[-2,13],"nice":false,"zero":false},"axis":{"orient":"bottom","values":[-2,0,2,4,6,8,10,12],"labelExpr":"'' + datum.value","tickSize":-9,"labelPadding":10,"title":"Distance (μm)","titlePadding":24}},
"y":{"field":"y","type":"quantitative","scale":{"domain":[0,1],"nice":false,"zero":false},"axis":{"orient":"left","values":[0,0.2,0.4,0.6,0.8,1.0],"format":".1f","tickSize":-9,"labelPadding":18,"title":"Friction Coefficient","titleX":-73,"titleY":256}},
"color":{"field":"s","type":"nominal","scale":{"domain":["scan #1","scan #2","scan #3"],"range":["#ff8000","#808000","#8b1010"]}},
"shape":{"field":"s","type":"nominal","scale":{"domain":["scan #1","scan #2","scan #3"],"range":["triangle-up","circle","square"]}}
}},
{"data":{"name":"ax"},"mark":{"type":"point","opacity":0},
"encoding":{
"x":{"field":"x","type":"quantitative","scale":{"domain":[-2,13],"nice":false,"zero":false},"axis":{"orient":"bottom","values":[-1,1,3,5,7,9,11],"tickSize":-5,"labels":false,"domain":false,"title":null}},
"y":{"field":"y","type":"quantitative","scale":{"domain":[0,1],"nice":false,"zero":false},"axis":{"orient":"left","values":[0.1,0.3,0.5,0.7,0.9],"tickSize":-5,"labels":false,"domain":false,"title":null}}
}},
{"data":{"name":"ax"},"mark":{"type":"point","opacity":0},
"encoding":{
"x":{"field":"x","type":"quantitative","scale":{"domain":[-2,13],"nice":false,"zero":false},"axis":{"orient":"top","values":[-2,0,2,4,6,8,10,12],"tickSize":-9,"labels":false,"title":null}},
"y":{"field":"y","type":"quantitative","scale":{"domain":[0,1],"nice":false,"zero":false},"axis":{"orient":"right","values":[0,0.2,0.4,0.6,0.8,1.0],"tickSize":-9,"labels":false,"title":null}}
}},
{"data":{"name":"ax"},"mark":{"type":"point","opacity":0},
"encoding":{
"x":{"field":"x","type":"quantitative","scale":{"domain":[-2,13],"nice":false,"zero":false},"axis":{"orient":"top","values":[-1,1,3,5,7,9,11],"tickSize":-5,"labels":false,"domain":false,"title":null}},
"y":{"field":"y","type":"quantitative","scale":{"domain":[0,1],"nice":false,"zero":false},"axis":{"orient":"right","values":[0.1,0.3,0.5,0.7,0.9],"tickSize":-5,"labels":false,"domain":false,"title":null}}
}}
],
"resolve":{"axis":{"x":"independent","y":"independent"}}
},
{
"width":622,"height":464,
"layer":[
{"data":{"name":"bottom"},
"mark":{"type":"point","filled":false,"size":60,"strokeWidth":1.4},
"encoding":{
"x":{"field":"x","type":"quantitative","scale":{"domain":[-2,13],"nice":false,"zero":false},"axis":{"orient":"bottom","values":[-2,0,2,4,6,8,10,12],"labelExpr":"'' + datum.value","tickSize":-9,"labelPadding":10,"title":"Distance (μm)","titlePadding":22}},
"y":{"field":"y","type":"quantitative","scale":{"domain":[0,1],"nice":false,"zero":false},"axis":{"orient":"left","values":[0,0.2,0.4,0.6,0.8,1.0],"format":".1f","tickSize":-9,"labelPadding":18,"title":"Friction Coefficient","titleX":-73,"titleY":246}},
"color":{"field":"s","type":"nominal","scale":{"domain":["scan #1","scan #2","scan #3"],"range":["#808000","#8b1010","#ff8000"]}},
"shape":{"field":"s","type":"nominal","scale":{"domain":["scan #1","scan #2","scan #3"],"range":["circle","square","triangle-up"]}}
}},
{"data":{"name":"ax"},"mark":{"type":"point","opacity":0},
"encoding":{
"x":{"field":"x","type":"quantitative","scale":{"domain":[-2,13],"nice":false,"zero":false},"axis":{"orient":"bottom","values":[-1,1,3,5,7,9,11],"tickSize":-5,"labels":false,"domain":false,"title":null}},
"y":{"field":"y","type":"quantitative","scale":{"domain":[0,1],"nice":false,"zero":false},"axis":{"orient":"left","values":[0.1,0.3,0.5,0.7,0.9],"tickSize":-5,"labels":false,"domain":false,"title":null}}
}},
{"data":{"name":"ax"},"mark":{"type":"point","opacity":0},
"encoding":{
"x":{"field":"x","type":"quantitative","scale":{"domain":[-2,13],"nice":false,"zero":false},"axis":{"orient":"top","values":[-2,0,2,4,6,8,10,12],"tickSize":-9,"labels":false,"title":null}},
"y":{"field":"y","type":"quantitative","scale":{"domain":[0,1],"nice":false,"zero":false},"axis":{"orient":"right","values":[0,0.2,0.4,0.6,0.8,1.0],"tickSize":-9,"labels":false,"title":null}}
}},
{"data":{"name":"ax"},"mark":{"type":"point","opacity":0},
"encoding":{
"x":{"field":"x","type":"quantitative","scale":{"domain":[-2,13],"nice":false,"zero":false},"axis":{"orient":"top","values":[-1,1,3,5,7,9,11],"tickSize":-5,"labels":false,"domain":false,"title":null}},
"y":{"field":"y","type":"quantitative","scale":{"domain":[0,1],"nice":false,"zero":false},"axis":{"orient":"right","values":[0.1,0.3,0.5,0.7,0.9],"tickSize":-5,"labels":false,"domain":false,"title":null}}
}}
],
"resolve":{"axis":{"x":"independent","y":"independent"}}
}
],
"bounds":"flush",
"spacing":110,
"resolve":{"scale":{"color":"independent","shape":"independent"},"legend":{"color":"independent","shape":"independent"}}
}
